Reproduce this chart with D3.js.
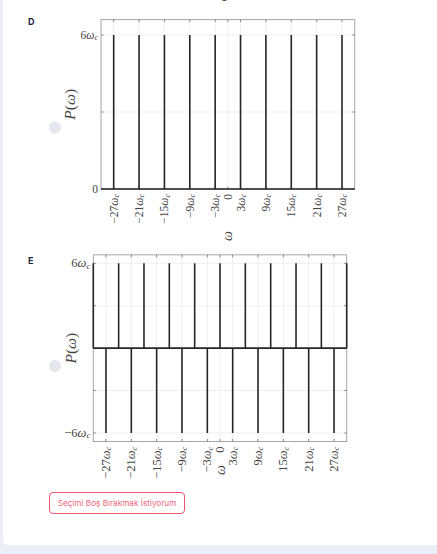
<!DOCTYPE html>
<html><head><meta charset="utf-8">
<script src="https://cdn.jsdelivr.net/npm/d3@7"></script>
<style>
html,body{margin:0;padding:0;background:#eceef7;}
svg{display:block;}
</style></head>
<body>
<svg id="c" width="437" height="554"></svg>
<script>
// ---- data ----
const xTicks = [-27,-21,-15,-9,-3,0,3,9,15,21,27];
const xTickCoeffs = ["−27","−21","−15","−9","−3","0","3","9","15","21","27"];
const xDomain = [-30, 30];

const yTicksD = [0,3,6];
const yTickCoeffsD = ["0","","6"];
const yDomainD = [0, 6.6];
const stemsDx = [-27,-21,-15,-9,-3,3,9,15,21,27];
const stemsDy = [6,6,6,6,6,6,6,6,6,6];

const yTicksE = [-6,-3,0,3,6];
const yTickCoeffsE = ["−6","","","","6"];
const yDomainE = [-6.6, 6.6];
const stemsEx = [-30,-27,-24,-21,-18,-15,-12,-9,-6,-3,0,3,6,9,12,15,18,21,24,27,30];
const stemsEy = [6,-6,6,-6,6,-6,6,-6,6,-6,6,-6,6,-6,6,-6,6,-6,6,-6,6];

const svg = d3.select("#c");
// card
svg.append("path")
  .attr("d","M3,0 H437 V545 H8 Q3,545 3,540 Z")
  .attr("fill","#ffffff");

// fragment of previous chart's axis label (cut by the top edge, as in the reference)
svg.append("text").attr("transform","translate(222,-3) rotate(-90)")
  .attr("font-family","Liberation Serif").attr("font-style","italic")
  .attr("font-size",13).attr("fill","#555").attr("text-anchor","middle")
  .attr("dominant-baseline","central").text("ω");

function mathLabel(sel, coeff, size, withOmega){
  sel.append("tspan").text(coeff);
  if(withOmega){
    sel.append("tspan").attr("font-style","italic").text("ω");
    sel.append("tspan").attr("font-style","italic").attr("font-size",size*0.7)
      .attr("dy",size*0.18).text("c");
  }
}

function drawChart(opt){
  const g = svg.append("g");
  const x = d3.scaleLinear().domain(xDomain).range([opt.left, opt.right]);
  const y = d3.scaleLinear().domain(opt.yDomain).range([opt.bottom, opt.top]);
  const x0 = x.range()[0], x1 = x.range()[1];
  const yb = y.range()[0], yt = y.range()[1];
  // grid
  g.selectAll(".gx").data(xTicks).join("line")
    .attr("x1",d=>x(d)).attr("x2",d=>x(d)).attr("y1",yb).attr("y2",yt)
    .attr("stroke","#ebebeb").attr("stroke-width",0.8);
  g.selectAll(".gy").data(opt.yTicks).join("line")
    .attr("y1",d=>y(d)).attr("y2",d=>y(d)).attr("x1",x0).attr("x2",x1)
    .attr("stroke","#ebebeb").attr("stroke-width",0.8);
  // box
  g.append("rect").attr("x",x0).attr("y",yt).attr("width",x1-x0).attr("height",yb-yt)
    .attr("fill","none").attr("stroke","#a6a6a6").attr("stroke-width",1);
  // inward ticks
  const tl = 2.5;
  xTicks.forEach(v=>{
    g.append("line").attr("x1",x(v)).attr("x2",x(v)).attr("y1",yb).attr("y2",yb-tl).attr("stroke","#888");
    g.append("line").attr("x1",x(v)).attr("x2",x(v)).attr("y1",yt).attr("y2",yt+tl).attr("stroke","#888");
  });
  opt.yTicks.forEach(v=>{
    g.append("line").attr("y1",y(v)).attr("y2",y(v)).attr("x1",x0).attr("x2",x0+tl).attr("stroke","#888");
    g.append("line").attr("y1",y(v)).attr("y2",y(v)).attr("x1",x1).attr("x2",x1-tl).attr("stroke","#888");
  });
  // baseline
  g.append("line").attr("x1",x0).attr("x2",x1).attr("y1",y(0)).attr("y2",y(0))
    .attr("stroke","#262626").attr("stroke-width",1.6);
  // stems
  g.selectAll(".stem").data(opt.sx.map((v,i)=>[v,opt.sy[i]])).join("line")
    .attr("x1",d=>x(d[0])).attr("x2",d=>x(d[0])).attr("y1",y(0)).attr("y2",d=>y(d[1]))
    .attr("stroke","#262626").attr("stroke-width",1.6);
  // x tick labels
  xTicks.forEach((v,i)=>{
    const t = g.append("text")
      .attr("transform",`translate(${x(v)},${yb+5}) rotate(-90)`)
      .attr("text-anchor","end").attr("dominant-baseline","central")
      .attr("font-family","Liberation Serif").attr("font-size",opt.fs).attr("fill","#444");
    mathLabel(t, xTickCoeffs[i], opt.fs, xTickCoeffs[i] !== "0");
  });
  // y tick labels
  opt.yTicks.forEach((v,i)=>{
    const c = opt.yCoeffs[i];
    if(c==="") return;
    const t = g.append("text").attr("x",x0-3).attr("y",y(v))
      .attr("text-anchor","end").attr("dominant-baseline","central")
      .attr("font-family","Liberation Serif").attr("font-size",opt.fs).attr("fill","#444");
    mathLabel(t, c, opt.fs, c !== "0");
  });
  // axis labels
  const yl = g.append("text")
    .attr("transform",`translate(${opt.ylabX},${(yb+yt)/2}) rotate(-90)`)
    .attr("text-anchor","middle").attr("dominant-baseline","central")
    .attr("font-family","Liberation Serif").attr("font-size",15.5).attr("fill","#444");
  yl.append("tspan").attr("font-style","italic").text("P");
  yl.append("tspan").text("(");
  yl.append("tspan").attr("font-style","italic").text("ω");
  yl.append("tspan").text(")");
  g.append("text")
    .attr("transform",`translate(${x(0)},${opt.xlabY}) rotate(-90)`)
    .attr("text-anchor","middle").attr("dominant-baseline","central")
    .attr("font-family","Liberation Serif").attr("font-style","italic")
    .attr("font-size",14).attr("fill","#444").text("ω");
}

drawChart({left:101,right:354.7,top:19.6,bottom:189,yDomain:yDomainD,yTicks:yTicksD,
  yCoeffs:yTickCoeffsD,sx:stemsDx,sy:stemsDy,fs:11.5,ylabX:69,xlabY:236});
drawChart({left:93.3,right:346.7,top:254.8,bottom:441.5,yDomain:yDomainE,yTicks:yTicksE,
  yCoeffs:yTickCoeffsE,sx:stemsEx,sy:stemsEy,fs:12.5,ylabX:69.5,xlabY:470});

// option letters
[["D",21.5],["E",260]].forEach(([l,yy])=>{
  svg.append("text").attr("x",28).attr("y",yy).attr("dominant-baseline","central")
    .attr("font-family","Inter").attr("font-weight",700).attr("font-size",9)
    .attr("fill","#1d2748").text(l);
});
// radio circles
[127.5,366].forEach(cy=>{
  svg.append("circle").attr("cx",55).attr("cy",cy).attr("r",6).attr("fill","#e5e6ee");
});
// button
svg.append("rect").attr("x",49.5).attr("y",492.5).attr("width",135).attr("height",21)
  .attr("rx",3.5).attr("fill","#fff").attr("stroke","#ef5470").attr("stroke-width",1);
svg.append("text").attr("x",117).attr("y",503.2).attr("text-anchor","middle")
  .attr("dominant-baseline","central").attr("font-family","Inter")
  .attr("font-size",8.2).attr("fill","#f06580").text("Seçimi Boş Bırakmak İstiyorum");
</script>
</body></html>
